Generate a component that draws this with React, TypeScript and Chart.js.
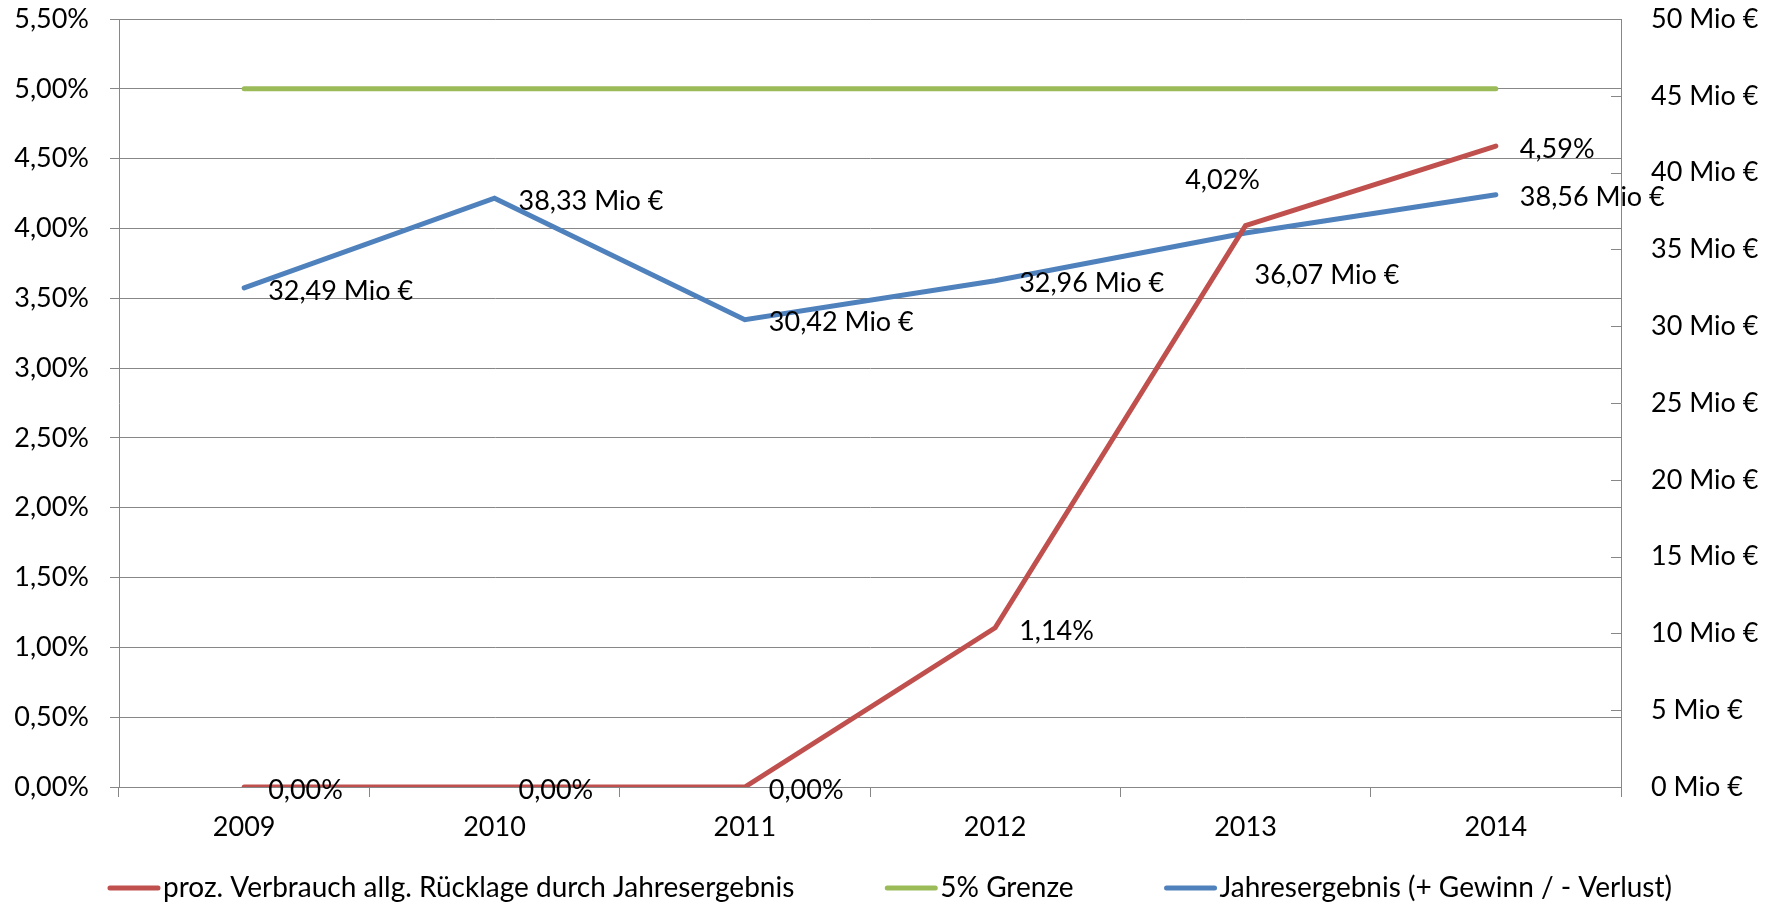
import React, { useEffect, useRef } from "react";
import { Chart, registerables } from "chart.js";

Chart.register(...registerables);

const years = ["2009", "2010", "2011", "2012", "2013", "2014"];
const verbrauchPct = [0, 0, 0, 1.14, 4.02, 4.59];
const grenzePct = [5, 5, 5, 5, 5, 5];
const jahresergebnisMio = [32.49, 38.33, 30.42, 32.96, 36.07, 38.56];
const verbrauchLabelPos = ["right", "right", "right", "right", "above", "right"];
const ergebnisLabelPos = ["right", "right", "right", "right", "below", "right"];

const seriesNames = [
  "proz. Verbrauch allg. Rücklage durch Jahresergebnis",
  "5% Grenze",
  "Jahresergebnis (+ Gewinn / - Verlust)",
];
const RED = "#C0504D";
const GREEN = "#9BBB59";
const BLUE = "#4F81BD";
const GRID = "#878787";
const FONT = "Lato, 'Open Sans', sans-serif";
const FSIZE = 27;
const LEGEND_FSIZE = 28;

const fmtPct = (v: number) => v.toFixed(2).replace(".", ",") + "%";
const fmtMio = (v: number) => v.toFixed(2).replace(".", ",") + " Mio €";

const dataLabelPlugin = {
  id: "dataLabels",
  afterDatasetsDraw(chart: any) {
    const ctx = chart.ctx;
    ctx.save();
    ctx.font = `${FSIZE}px ${FONT}`;
    ctx.fillStyle = "#000";
    ctx.textBaseline = "middle";
    const draw = (dsIndex: number, vals: number[], fmt: (v: number) => string, pos: string[]) => {
      const meta = chart.getDatasetMeta(dsIndex);
      meta.data.forEach((pt: any, i: number) => {
        const text = fmt(vals[i]);
        let x = pt.x;
        let y = pt.y;
        const p = pos[i];
        if (p === "above") {
          ctx.textAlign = "center";
          x -= 23;
          y -= 45;
        } else if (p === "below") {
          ctx.textAlign = "left";
          x += 9;
          y += 42;
        } else {
          ctx.textAlign = "left";
          x += 24;
          y += 3;
        }
        ctx.fillText(text, x, y);
      });
    };
    draw(0, verbrauchPct, fmtPct, verbrauchLabelPos);
    draw(2, jahresergebnisMio, fmtMio, ergebnisLabelPos);
    ctx.restore();
  },
};

const innerTicksPlugin = {
  id: "innerTicks",
  afterDraw(chart: any) {
    const s = chart.scales.y1;
    const ctx = chart.ctx;
    ctx.save();
    ctx.strokeStyle = GRID;
    ctx.lineWidth = 1;
    s.ticks.forEach((t: any) => {
      const y = Math.round(s.getPixelForValue(t.value)) + 0.5;
      ctx.beginPath();
      ctx.moveTo(s.left - 10, y);
      ctx.lineTo(s.left, y);
      ctx.stroke();
    });
    ctx.restore();
  },
};

const legendPlugin = {
  id: "customLegend",
  afterDraw(chart: any) {
    const ctx = chart.ctx;
    const colors = [RED, GREEN, BLUE];
    const sample = 54;
    const gapText = 2;
    const gapItem = 90;
    ctx.save();
    ctx.font = `${LEGEND_FSIZE}px ${FONT}`;
    const widths = seriesNames.map((n) => ctx.measureText(n).width);
    const total =
      widths.reduce((a, w) => a + w + sample + gapText, 0) + gapItem * (seriesNames.length - 1);
    let x = (chart.width - total) / 2;
    const y = chart.height - 18;
    ctx.textBaseline = "middle";
    ctx.textAlign = "left";
    seriesNames.forEach((n, i) => {
      ctx.strokeStyle = colors[i];
      ctx.lineWidth = 5;
      ctx.lineCap = "round";
      ctx.beginPath();
      ctx.moveTo(x + 3, y);
      ctx.lineTo(x + sample - 3, y);
      ctx.stroke();
      ctx.fillStyle = "#000";
      ctx.fillText(n, x + sample + gapText, y);
      x += sample + gapText + widths[i] + gapItem;
    });
    ctx.restore();
  },
};

const zeroPad = (s: any) => {
  s.paddingTop = 0;
  s.paddingBottom = 0;
  s.paddingLeft = 0;
  s.paddingRight = 0;
};

export default function App() {
  const ref = useRef<HTMLCanvasElement>(null);
  useEffect(() => {
    if (!ref.current) return;
    Chart.defaults.font.family = FONT;
    Chart.defaults.font.size = FSIZE;
    Chart.defaults.color = "#000";
    const chart = new Chart(ref.current, {
      type: "line",
      data: {
        labels: years,
        datasets: [
          {
            label: seriesNames[0],
            data: verbrauchPct,
            borderColor: RED,
            backgroundColor: RED,
            borderWidth: 5,
            pointRadius: 0,
            tension: 0,
            borderCapStyle: "round",
            yAxisID: "y",
          },
          {
            label: seriesNames[1],
            data: grenzePct,
            borderColor: GREEN,
            backgroundColor: GREEN,
            borderWidth: 5,
            pointRadius: 0,
            tension: 0,
            borderCapStyle: "round",
            yAxisID: "y",
          },
          {
            label: seriesNames[2],
            data: jahresergebnisMio,
            borderColor: BLUE,
            backgroundColor: BLUE,
            borderWidth: 5,
            pointRadius: 0,
            tension: 0,
            borderCapStyle: "round",
            yAxisID: "y1",
          },
        ],
      },
      options: {
        animation: false,
        responsive: true,
        maintainAspectRatio: false,
        layout: { autoPadding: false, padding: { top: 11, left: 0, right: 0, bottom: 0 } },
        plugins: { legend: { display: false }, tooltip: { enabled: false } },
        scales: {
          x: {
            offset: true,
            grid: {
              offset: true,
              drawOnChartArea: false,
              drawTicks: true,
              tickLength: 10,
              tickColor: GRID,
              color: GRID,
            },
            border: { display: true, color: GRID, width: 1 },
            ticks: { padding: 14, font: { size: FSIZE, family: FONT }, color: "#000" },
            afterFit: (s: any) => {
              s.height = 119;
              zeroPad(s);
            },
          },
          y: {
            position: "left",
            min: 0,
            max: 5.5,
            ticks: {
              stepSize: 0.5,
              padding: 21,
              callback: (v: any) => fmtPct(Number(v)),
              font: { size: FSIZE, family: FONT },
              color: "#000",
            },
            grid: { color: GRID, tickLength: 9, tickColor: GRID, lineWidth: 1 },
            border: { display: true, color: GRID, width: 1 },
            afterFit: (s: any) => {
              s.width = 111;
              zeroPad(s);
            },
          },
          y1: {
            position: "right",
            min: 0,
            max: 50,
            ticks: {
              stepSize: 5,
              padding: 30,
              callback: (v: any) => `${v} Mio €`,
              font: { size: FSIZE, family: FONT },
              color: "#000",
            },
            grid: { drawOnChartArea: false, drawTicks: false, tickLength: 0 },
            border: { display: true, color: GRID, width: 1 },
            afterFit: (s: any) => {
              s.width = 150;
              zeroPad(s);
            },
          },
        },
      },
      plugins: [dataLabelPlugin, innerTicksPlugin, legendPlugin],
    } as any);
    return () => chart.destroy();
  }, []);
  return (
    <div style={{ width: 1763, height: 898, position: "relative" }}>
      <canvas ref={ref} />
    </div>
  );
}
